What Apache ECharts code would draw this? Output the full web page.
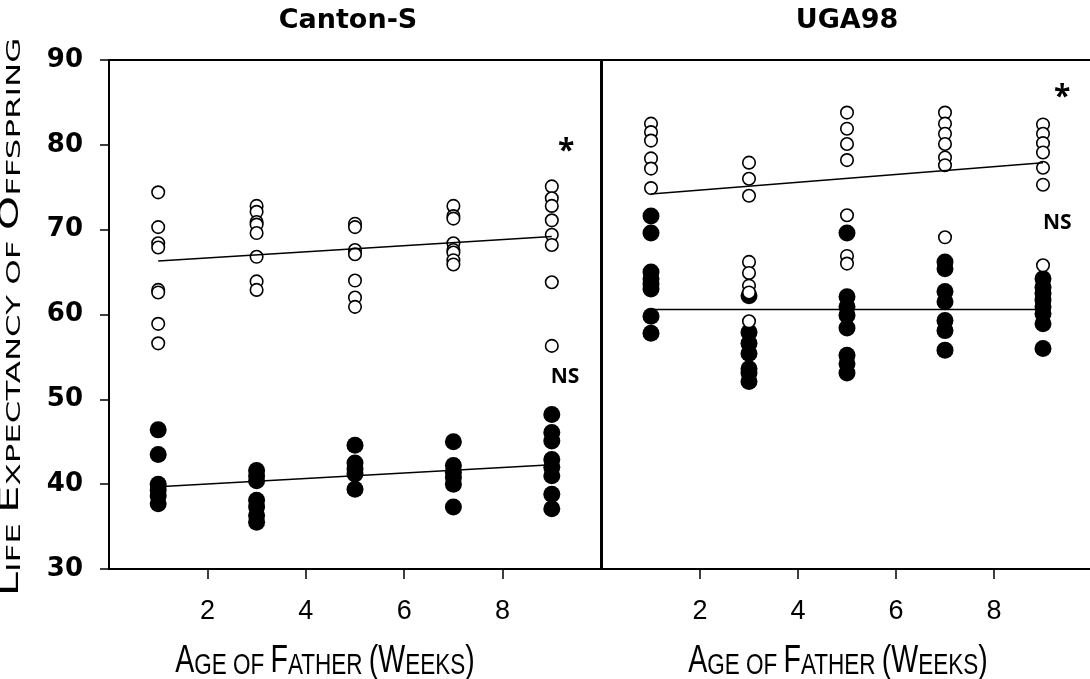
<!DOCTYPE html>
<html>
<head>
<meta charset="utf-8">
<script src="https://cdn.jsdelivr.net/npm/echarts@6/dist/echarts.min.js"></script>
<style>html,body{margin:0;padding:0;background:#fff}#c{width:1090px;height:679px}</style>
</head>
<body>
<div id="c"></div>
<script>
// ---- data ----
const ages = [1, 3, 5, 7, 9];
const xTickLabels = [2, 4, 6, 8];
const yTicks = [30, 40, 50, 60, 70, 80, 90];

// Canton-S (left panel)
const cantonOpen = [
  [74.4, 70.3, 68.4, 67.9, 62.9, 62.6, 58.9, 56.6],
  [72.8, 72.1, 70.9, 70.6, 69.6, 66.8, 63.9, 62.9],
  [70.7, 70.3, 67.6, 67.1, 64.0, 62.0, 60.9],
  [72.8, 71.6, 71.3, 68.4, 67.6, 67.3, 66.4, 65.9],
  [75.1, 73.7, 72.8, 71.1, 69.4, 68.2, 63.8, 56.3]
];
const cantonFilled = [
  [46.4, 43.5, 40.0, 39.3, 38.6, 37.7],
  [41.6, 41.0, 40.4, 38.1, 37.3, 36.3, 35.5],
  [44.6, 42.5, 41.8, 41.2, 39.4],
  [45.0, 42.2, 41.4, 40.8, 40.0, 37.3],
  [48.2, 46.1, 45.1, 42.9, 42.0, 41.0, 38.8, 37.1]
];
// UGA98 (right panel)
const ugaOpen = [
  [82.5, 81.5, 80.5, 78.4, 77.2, 74.9],
  [77.9, 76.0, 74.0, 66.2, 64.9, 63.4, 62.6, 59.2],
  [83.8, 81.9, 80.1, 78.2, 71.7, 66.9, 66.0],
  [83.8, 82.5, 81.3, 80.1, 78.5, 77.6, 69.1],
  [82.4, 81.3, 80.2, 79.1, 77.3, 75.3, 65.8]
];
const ugaFilled = [
  [71.6, 69.6, 65.0, 64.2, 63.6, 63.0, 59.8, 57.8],
  [62.2, 57.9, 56.6, 55.4, 53.6, 53.1, 52.1],
  [69.6, 62.1, 60.9, 59.9, 58.4, 55.2, 54.2, 53.1],
  [66.2, 65.4, 62.7, 61.5, 59.3, 58.1, 55.8],
  [64.2, 63.2, 62.5, 61.7, 60.9, 60.1, 58.9, 56.0]
];
// regression lines (ends at age 1 and age 9)
const fitAges = [1, 9];
const cantonOpenFit = [66.3, 69.2];
const cantonFilledFit = [39.7, 42.3];
const ugaOpenFit = [74.2, 77.9];
const ugaFilledFit = [60.6, 60.6];
// significance notes [age, value, text]
const cantonNotes = [[9.29, 79.2, '*'], [9.27, 52.6, 'NS']];
const ugaNotes = [[9.39, 85.6, '*'], [9.29, 70.8, 'NS']];
const panelTitles = ['Canton-S', 'UGA98'];

// ---- build ----
const toPts = g => g.flatMap((vals, i) => vals.map(v => [ages[i], v]));
const fitPts = f => fitAges.map((a, i) => [a, f[i]]);

const chart = echarts.init(document.getElementById('c'), null, {renderer: 'canvas'});

function xAxis(gi) {
  return {
    type: 'value', gridIndex: gi, min: 0, max: 10, interval: 2,
    axisLine: {show: true, lineStyle: {color: '#000', width: 2}},
    axisTick: {show: true, inside: false, length: 10, customValues: xTickLabels, lineStyle: {color: '#000', width: 1.5}},
    axisLabel: {show: true, customValues: xTickLabels, margin: 29, color: '#000',
      fontFamily: 'Liberation Sans', fontSize: 27},
    splitLine: {show: false}
  };
}
function yAxis(gi, labels) {
  return {
    type: 'value', gridIndex: gi, min: 30, max: 90, interval: 10,
    axisLine: {show: true, lineStyle: {color: '#000', width: 2}},
    axisTick: {show: labels, length: 9, lineStyle: {color: '#000', width: 1.5}},
    axisLabel: {show: labels, margin: 26, color: '#000',
      fontFamily: 'DejaVu Sans', fontWeight: 'bold', fontSize: 26},
    splitLine: {show: false}
  };
}
function openSeries(data, gi) {
  return {type: 'scatter', xAxisIndex: gi, yAxisIndex: gi, data: toPts(data), z: 3,
    symbol: 'circle', symbolSize: 12.5,
    itemStyle: {color: '#fff', borderColor: '#000', borderWidth: 1.6, opacity: 1}, silent: true};
}
function filledSeries(data, gi) {
  return {type: 'scatter', xAxisIndex: gi, yAxisIndex: gi, data: toPts(data), z: 2,
    symbol: 'circle', symbolSize: 17, itemStyle: {color: '#000', opacity: 1}, silent: true};
}
function fitSeries(f, gi) {
  return {type: 'line', xAxisIndex: gi, yAxisIndex: gi, data: fitPts(f), z: 4,
    symbol: 'none', lineStyle: {color: '#000', width: 1.5, opacity: 1}, silent: true};
}
function noteSeries(notes, gi) {
  return {type: 'scatter', xAxisIndex: gi, yAxisIndex: gi, z: 5, silent: true,
    symbol: 'circle', symbolSize: 1, itemStyle: {color: 'rgba(0,0,0,0)', opacity: 1},
    data: notes.map(n => ({value: [n[0], n[1]], name: n[2],
      label: {fontSize: n[2] === '*' ? 30 : 21}})),
    label: {show: true, position: 'inside', formatter: p => p.name, color: '#000', opacity: 1,
      fontFamily: 'Open Sans', fontWeight: 'bold', fontSize: 21}};
}

const smallCaps = {
  b: {fontFamily: 'Liberation Sans', fontSize: 38, lineHeight: 38, verticalAlign: 'bottom', fill: '#000', color: '#000'},
  s: {fontFamily: 'Liberation Sans', fontSize: 30, lineHeight: 38, verticalAlign: 'bottom', fill: '#000', color: '#000'}
};
const xTitle = '{b|A}{s|GE OF }{b|F}{s|ATHER }{b|(W}{s|EEKS}{b|)}';
const yCaps = {
  b: {fontFamily: 'DejaVu Sans', fontSize: 27, lineHeight: 27, verticalAlign: 'bottom', fill: '#000', color: '#000'},
  s: {fontFamily: 'DejaVu Sans', fontSize: 20, lineHeight: 27, verticalAlign: 'bottom', fill: '#000', color: '#000'}
};
const yTitle = '{b|L}{s|IFE }{b|E}{s|XPECTANCY OF }{b|O}{s|FFSPRING}';

chart.setOption({
  animation: false,
  backgroundColor: '#fff',
  grid: [
    {left: 109, top: 60, width: 492, height: 509, show: true, borderColor: '#000', borderWidth: 2, backgroundColor: 'transparent', outerBoundsMode: 'none'},
    {left: 602, top: 60, width: 490, height: 509, show: true, borderColor: '#000', borderWidth: 2, backgroundColor: 'transparent', outerBoundsMode: 'none'}
  ],
  xAxis: [xAxis(0), xAxis(1)],
  yAxis: [yAxis(0, true), yAxis(1, false)],
  series: [
    filledSeries(cantonFilled, 0), openSeries(cantonOpen, 0),
    fitSeries(cantonOpenFit, 0), fitSeries(cantonFilledFit, 0), noteSeries(cantonNotes, 0),
    filledSeries(ugaFilled, 1), openSeries(ugaOpen, 1),
    fitSeries(ugaOpenFit, 1), fitSeries(ugaFilledFit, 1), noteSeries(ugaNotes, 1)
  ],
  graphic: [
    {type: 'text', x: 348, y: 21, style: {text: panelTitles[0], textAlign: 'center', textVerticalAlign: 'middle', verticalAlign: 'middle',
      font: 'bold 27px "DejaVu Sans"', fill: '#000'}},
    {type: 'text', x: 847, y: 21, style: {text: panelTitles[1], textAlign: 'center', textVerticalAlign: 'middle', verticalAlign: 'middle',
      font: 'bold 27px "DejaVu Sans"', fill: '#000'}},
    {type: 'text', x: 325, y: 662, scaleX: 0.75, style: {text: xTitle, rich: smallCaps, align: 'center', verticalAlign: 'middle', fill: '#000'}},
    {type: 'text', x: 838, y: 662, scaleX: 0.75, style: {text: xTitle, rich: smallCaps, align: 'center', verticalAlign: 'middle', fill: '#000'}},
    {type: 'text', x: 11, y: 317, rotation: Math.PI / 2, scaleX: 1.62, style: {text: yTitle, rich: yCaps, align: 'center', verticalAlign: 'middle', fill: '#000'}}
  ]
});
</script>
</body>
</html>
